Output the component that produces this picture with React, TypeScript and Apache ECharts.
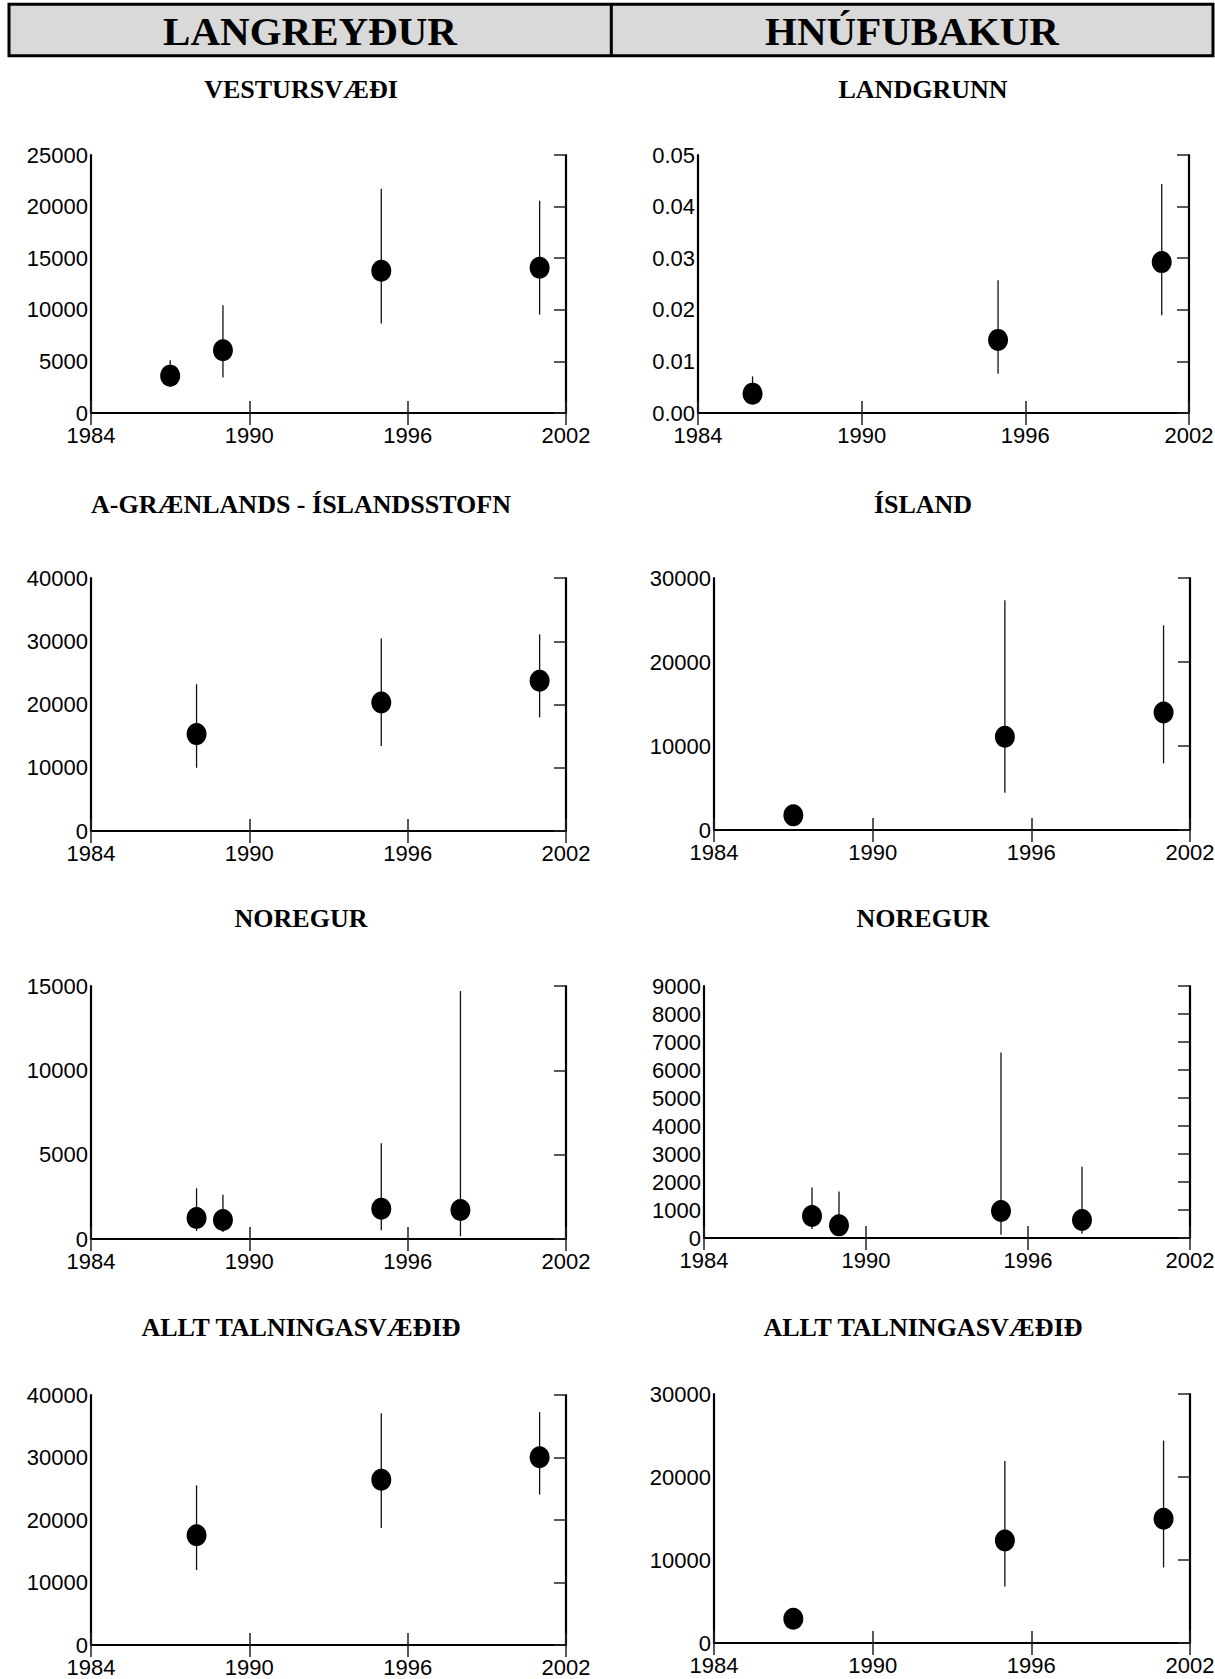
import React, { useEffect, useRef } from "react";
import * as echarts from "echarts";

// ---------- DATA ----------
// Langreyður (fin whale)
const vesturYears = [1987, 1989, 1995, 2001];
const vesturEst = [3620, 6080, 13780, 14070];
const vesturLow = [2520, 3430, 8670, 9540];
const vesturHigh = [5110, 10450, 21730, 20570];

const grlIslYears = [1988, 1995, 2001];
const grlIslEst = [15320, 20320, 23740];
const grlIslLow = [10000, 13420, 17950];
const grlIslHigh = [23210, 30420, 31100];

const norFinYears = [1988, 1989, 1995, 1998];
const norFinEst = [1245, 1126, 1798, 1719];
const norFinLow = [474, 415, 514, 158];
const norFinHigh = [3004, 2628, 5672, 14700];

const alltFinYears = [1988, 1995, 2001];
const alltFinEst = [17570, 26440, 30030];
const alltFinLow = [11980, 18730, 24060];
const alltFinHigh = [25540, 37100, 37260];

// Hnúfubakur (humpback whale)
const landgrunnYears = [1986, 1995, 2001];
const landgrunnEst = [0.00375, 0.01417, 0.02924];
const landgrunnLow = [0.0025, 0.00763, 0.01895];
const landgrunnHigh = [0.0071, 0.02574, 0.04437];

const islandYears = [1987, 1995, 2001];
const islandEst = [1744, 11100, 13990];
const islandLow = [1200, 4440, 7930];
const islandHigh = [2300, 27350, 24370];

const norHumYears = [1988, 1989, 1995, 1998];
const norHumEst = [784, 451, 962, 641];
const norHumLow = [321, 83, 119, 154];
const norHumHigh = [1805, 1662, 6625, 2541];

const alltHumYears = [1987, 1995, 2001];
const alltHumEst = [2930, 12350, 14960];
const alltHumLow = [2400, 6820, 9100];
const alltHumHigh = [3400, 21940, 24390];

// Axis settings
const xMin = 1984;
const xMax = 2002;
const xStep = 6;

const headerTitles = ["LANGREYÐUR", "HNÚFUBAKUR"];

const panelTitles = [
  "VESTURSVÆÐI",
  "LANDGRUNN",
  "A-GRÆNLANDS - ÍSLANDSSTOFN",
  "ÍSLAND",
  "NOREGUR",
  "NOREGUR",
  "ALLT TALNINGASVÆÐIÐ",
  "ALLT TALNINGASVÆÐIÐ",
];

const panelData = [
  { years: vesturYears, est: vesturEst, low: vesturLow, high: vesturHigh, yMax: 25000, yStep: 5000, dec: 0 },
  { years: landgrunnYears, est: landgrunnEst, low: landgrunnLow, high: landgrunnHigh, yMax: 0.05, yStep: 0.01, dec: 2 },
  { years: grlIslYears, est: grlIslEst, low: grlIslLow, high: grlIslHigh, yMax: 40000, yStep: 10000, dec: 0 },
  { years: islandYears, est: islandEst, low: islandLow, high: islandHigh, yMax: 30000, yStep: 10000, dec: 0 },
  { years: norFinYears, est: norFinEst, low: norFinLow, high: norFinHigh, yMax: 15000, yStep: 5000, dec: 0 },
  { years: norHumYears, est: norHumEst, low: norHumLow, high: norHumHigh, yMax: 9000, yStep: 1000, dec: 0 },
  { years: alltFinYears, est: alltFinEst, low: alltFinLow, high: alltFinHigh, yMax: 40000, yStep: 10000, dec: 0 },
  { years: alltHumYears, est: alltHumEst, low: alltHumLow, high: alltHumHigh, yMax: 30000, yStep: 10000, dec: 0 },
];

// ---------- LAYOUT ----------
const gridBoxes = [
  { left: 91, top: 155, right: 566, bottom: 413 },
  { left: 698, top: 155, right: 1189, bottom: 413 },
  { left: 91, top: 578, right: 566, bottom: 831 },
  { left: 714, top: 578, right: 1190, bottom: 830 },
  { left: 91, top: 986, right: 566, bottom: 1239 },
  { left: 704, top: 986, right: 1190, bottom: 1238 },
  { left: 91, top: 1395, right: 566, bottom: 1645 },
  { left: 714, top: 1394, right: 1190, bottom: 1643 },
];
const titleXs = [301, 923];
const titleYs = [89, 504, 918, 1327];

const AXIS_FONT = "'Liberation Sans', Arial, sans-serif";
const SERIF_FONT = "'Liberation Serif', 'Times New Roman', serif";

export default function App() {
  const ref = useRef<HTMLDivElement>(null);

  useEffect(() => {
    document.body.style.margin = "0";
    if (!ref.current) return;
    const chart = echarts.init(ref.current, undefined, { renderer: "svg" });

    const grids: any[] = [];
    const xAxes: any[] = [];
    const yAxes: any[] = [];
    const series: any[] = [];

    const frameLine = { show: true, lineStyle: { color: "#000", width: 2.2 } };
    const tickIn = { show: true, inside: true, length: 12, lineStyle: { color: "#222", width: 1.5 } };

    panelData.forEach((p, i) => {
      const b = gridBoxes[i];
      grids.push({
        left: b.left,
        top: b.top,
        width: b.right - b.left,
        height: b.bottom - b.top,
        outerBoundsMode: "none",
        containLabel: false,
      });
      xAxes.push({
        type: "value",
        gridIndex: i,
        position: "bottom",
        min: xMin,
        max: xMax,
        interval: xStep,
        axisLine: frameLine,
        axisTick: tickIn,
        splitLine: { show: false },
        axisLabel: {
          margin: 14,
          color: "#000",
          fontSize: 22,
          lineHeight: 17,
          fontFamily: AXIS_FONT,
          formatter: (v: number) => String(Math.round(v)),
        },
      });
      xAxes.push({
        type: "value",
        gridIndex: i,
        position: "top",
        min: xMin,
        max: xMax,
        interval: xStep,
        axisLine: frameLine,
        axisTick: tickIn,
        splitLine: { show: false },
        axisLabel: { show: false },
      });
      yAxes.push({
        type: "value",
        gridIndex: i,
        position: "left",
        min: 0,
        max: p.yMax,
        interval: p.yStep,
        axisLine: frameLine,
        axisTick: { show: false },
        splitLine: { show: false },
        axisLabel: {
          margin: 3,
          color: "#000",
          fontSize: 22,
          lineHeight: 17,
          fontFamily: AXIS_FONT,
          formatter: (v: number) => (p.dec > 0 ? v.toFixed(p.dec) : String(Math.round(v))),
        },
      });
      yAxes.push({
        type: "value",
        gridIndex: i,
        position: "right",
        min: 0,
        max: p.yMax,
        interval: p.yStep,
        axisLine: frameLine,
        axisTick: tickIn,
        splitLine: { show: false },
        axisLabel: { show: false },
      });

      series.push({
        type: "custom",
        xAxisIndex: 2 * i,
        yAxisIndex: 2 * i,
        z: 2,
        data: p.years.map((y, k) => [y, p.low[k], p.high[k]]),
        encode: { x: 0, y: [1, 2] },
        renderItem: (_params: any, api: any) => {
          const x = api.value(0);
          const a = api.coord([x, api.value(1)]);
          const c = api.coord([x, api.value(2)]);
          return {
            type: "line",
            shape: { x1: a[0], y1: a[1], x2: c[0], y2: c[1] },
            style: { stroke: "#111", lineWidth: 1.3 },
          };
        },
      });
      series.push({
        type: "scatter",
        xAxisIndex: 2 * i,
        yAxisIndex: 2 * i,
        z: 3,
        symbol: "circle",
        symbolSize: [20, 22],
        itemStyle: { color: "#000", opacity: 1 },
        data: p.years.map((y, k) => [y, p.est[k]]),
      });
    });

    const graphics: any[] = [
      {
        type: "rect",
        shape: { x: 9, y: 4.3, width: 1204, height: 51.5 },
        style: { fill: "#d9d9d9", stroke: "#000", lineWidth: 3 },
        z: 1,
      },
      {
        type: "line",
        shape: { x1: 611.3, y1: 4.3, x2: 611.3, y2: 55.8 },
        style: { stroke: "#000", lineWidth: 3 },
        z: 2,
      },
    ];
    headerTitles.forEach((t, j) => {
      graphics.push({
        type: "text",
        x: j === 0 ? 310 : 912,
        y: 31,
        z: 3,
        style: {
          text: t,
          fill: "#000",
          font: `bold 41px ${SERIF_FONT}`,
          textAlign: "center",
          textVerticalAlign: "middle",
          align: "center",
          verticalAlign: "middle",
        },
      });
    });
    panelTitles.forEach((t, i) => {
      graphics.push({
        type: "text",
        x: titleXs[i % 2],
        y: titleYs[Math.floor(i / 2)],
        z: 3,
        style: {
          text: t,
          fill: "#000",
          font: `bold 26px ${SERIF_FONT}`,
          textAlign: "center",
          textVerticalAlign: "middle",
          align: "center",
          verticalAlign: "middle",
        },
      });
    });

    chart.setOption({
      animation: false,
      backgroundColor: "#fff",
      grid: grids,
      xAxis: xAxes,
      yAxis: yAxes,
      series,
      graphic: { elements: graphics },
    });

    return () => {
      chart.dispose();
    };
  }, []);

  return <div ref={ref} style={{ width: 1215, height: 1679 }} />;
}
